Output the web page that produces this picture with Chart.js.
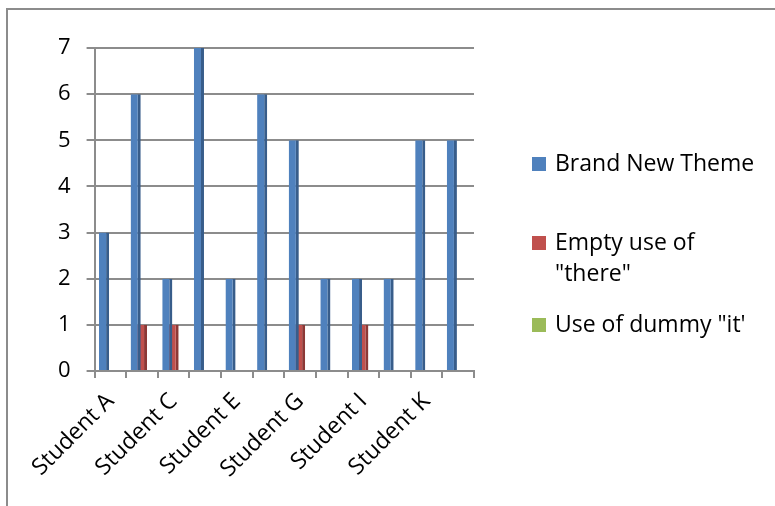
<!DOCTYPE html>
<html>
<head>
<meta charset="utf-8">
<script src="https://cdn.jsdelivr.net/npm/chart.js@4.4.1/dist/chart.umd.min.js"></script>
<style>
  html, body {
    margin: 0;
    padding: 0;
    background: #ffffff;
  }
  #wrap {
    position: relative;
    width: 775px;
    height: 506px;
    overflow: hidden;
  }
  #frame {
    position: absolute;
    left: 6px;
    top: 8px;
    width: 800px;
    height: 520px;
    border-left: 2px solid #8c8c8c;
    border-top: 2px solid #8c8c8c;
  }
  canvas {
    position: absolute;
    left: 0;
    top: 0;
  }
</style>
</head>
<body>
<div id="wrap">
  <div id="frame"></div>
  <canvas id="chart" width="775" height="506"></canvas>
</div>
<script>
const students = [
  'Student A', 'Student B', 'Student C', 'Student D',
  'Student E', 'Student F', 'Student G', 'Student H',
  'Student I', 'Student J', 'Student K', 'Student L',
];

const brandNewTheme =
  [3, 6, 2, 7, 2, 6, 5, 2, 2, 2, 5, 5];

const emptyThere =
  [0, 1, 1, 0, 0, 0, 1, 0, 1, 0, 0, 0];

const dummyIt =
  [0, 0, 0, 0, 0, 0, 0, 0, 0, 0, 0, 0];

const seriesNames = [
  'Brand New Theme',
  'Empty use of "there"',
  'Use of dummy "it\'',
];

const yTicks = [0, 1, 2, 3, 4, 5, 6, 7];

const FONT = '"Open Sans", "Liberation Sans", sans-serif';

// legend drawn on the canvas so the long label can wrap like the original
const sideLegend = {
  id: 'sideLegend',
  afterDraw(chart, args, opts) {
    const ctx = chart.ctx;
    ctx.save();
    ctx.font = `${opts.size}px ${FONT}`;
    ctx.textBaseline = 'middle';
    chart.data.datasets.forEach((ds, i) => {
      const lines = wrap(ctx, ds.label, opts.maxWidth);
      const y0 = opts.rows[i];
      ctx.fillStyle = ds.backgroundColor;
      ctx.fillRect(opts.x, y0 - 7, 14, 14);
      ctx.fillStyle = '#000000';
      lines.forEach((line, j) => {
        ctx.fillText(line, opts.x + 23, y0 + j * opts.lineHeight);
      });
    });
    ctx.restore();
  },
};

function wrap(ctx, text, maxWidth) {
  const words = text.split(' ');
  const lines = [];
  let cur = '';
  words.forEach(w => {
    const test = cur ? cur + ' ' + w : w;
    if (ctx.measureText(test).width > maxWidth && cur) {
      lines.push(cur);
      cur = w;
    } else {
      cur = test;
    }
  });
  lines.push(cur);
  return lines;
}

new Chart(
  document.getElementById('chart'),
  {
    type: 'bar',

    data: {
      labels: students,

      datasets: [
        {
          label: seriesNames[0],
          data: brandNewTheme,
          backgroundColor: '#4f81bd',
          borderColor: '#385d8a',
          borderWidth: { right: 3 },
        },
        {
          label: seriesNames[1],
          data: emptyThere,
          backgroundColor: '#c0504d',
          borderColor: '#8c3836',
          borderWidth: { right: 3 },
        },
        {
          label: seriesNames[2],
          data: dummyIt,
          backgroundColor: '#9bbb59',
          borderColor: '#71893f',
          borderWidth: { right: 3 },
        },
      ],
    },

    options: {
      responsive: false,
      animation: false,
      categoryPercentage: 0.6,
      barPercentage: 1.6,

      layout: {
        padding: { left: 42, top: 48, right: 301, bottom: 13 },
      },

      plugins: {
        legend: { display: false },
        tooltip: { enabled: false },
        sideLegend: {
          x: 532,
          rows: [164, 243, 325],
          lineHeight: 31,
          size: 23,
          maxWidth: 210,
        },
      },

      scales: {
        x: {
          grid: {
            drawOnChartArea: false,
            color: '#8c8c8c',
            lineWidth: 2,
            tickLength: 7,
          },
          border: { color: '#8c8c8c', width: 2 },
          ticks: {
            autoSkip: false,
            maxRotation: 45,
            minRotation: 45,
            padding: 10,
            color: '#000000',
            font: { family: FONT, size: 23 },
            callback: (v, i) => (i % 2 === 0 ? students[i] : ''),
          },
        },

        y: {
          min: yTicks[0],
          max: yTicks[yTicks.length - 1],
          afterBuildTicks: scale => {
            scale.ticks = yTicks.map(v => ({ value: v }));
          },
          grid: {
            color: '#8c8c8c',
            lineWidth: 2,
            tickLength: 8,
          },
          border: { color: '#8c8c8c', width: 2 },
          ticks: {
            color: '#000000',
            padding: 16,
            font: { family: FONT, size: 22 },
          },
        },
      },
    },

    plugins: [sideLegend],
  }
);
</script>
</body>
</html>
